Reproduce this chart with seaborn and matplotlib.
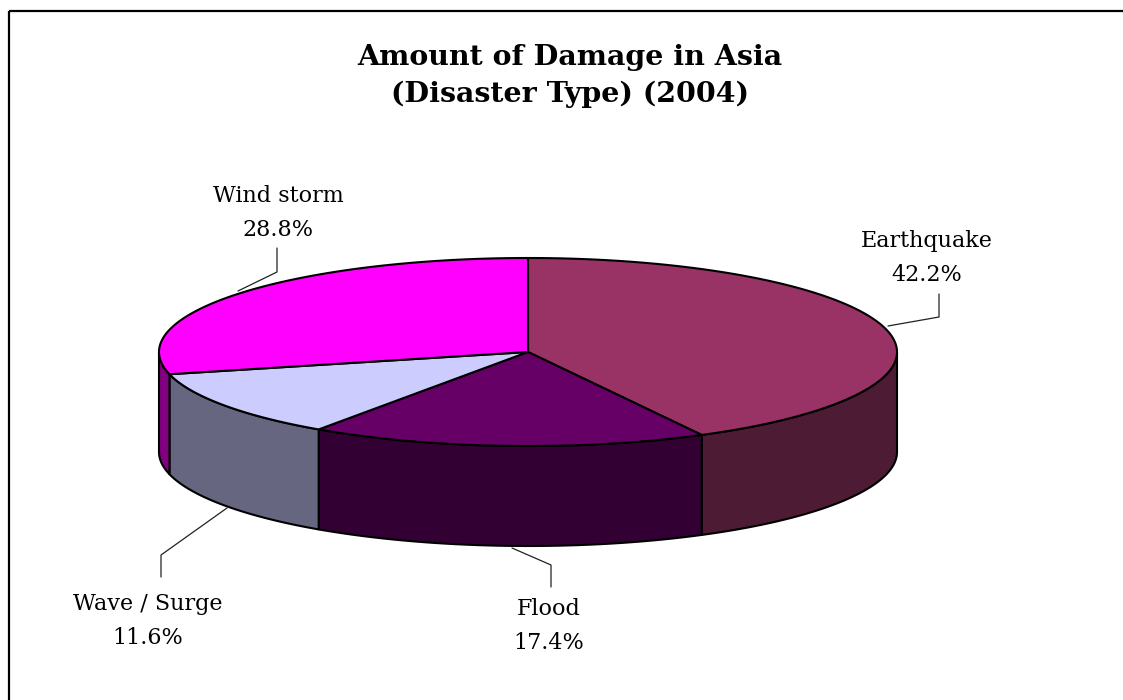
import numpy as np
import matplotlib
matplotlib.use("Agg")
import matplotlib.pyplot as plt
from matplotlib.patches import Polygon, Rectangle
import seaborn as sns

# --- data -------------------------------------------------------------
categories = ["Earthquake", "Flood", "Wave / Surge", "Wind storm"]
shares = [42.2, 17.4, 11.6, 28.8]
top_colors = ["#993366", "#660066", "#CCCCFF", "#FF00FF"]
side_colors = ["#4E1B34", "#330033", "#666680", "#800080"]

title_text = "Amount of Damage in Asia\n(Disaster Type) (2004)"

# label anchor (text centre) and leader-line path, in figure pixels
label_pos = {
    "Earthquake": (927, 258),
    "Flood": (549, 626),
    "Wave / Surge": (148, 621),
    "Wind storm": (278, 213),
}
leader_paths = {
    "Earthquake": [(939, 294), (939, 317), (888, 326)],
    "Flood": [(551, 587), (551, 565), (512, 548)],
    "Wave / Surge": [(161, 577), (161, 555), (227, 508)],
    "Wind storm": [(277, 248), (277, 272), (238, 291)],
}

# --- geometry of the tilted disc ----------------------------------------
W, H = 1123, 700
cx, cy = 528, 352      # centre of the top face
rx, ry = 369, 94       # radii of the top-face ellipse
depth = 100            # thickness of the disc


def rim(theta_deg, drop=0.0):
    t = np.radians(theta_deg)
    return cx + rx * np.cos(t), cy - ry * np.sin(t) + drop


sns.set_theme(style="white")
plt.rcParams["font.family"] = ["DejaVu Serif"]

fig = plt.figure(figsize=(W / 100, H / 100), dpi=100)
ax = fig.add_axes([0, 0, 1, 1])
ax.set_xlim(0, W)
ax.set_ylim(H, 0)
ax.axis("off")

total = sum(shares)
bounds = 90 - 360 * np.concatenate([[0], np.cumsum(shares)]) / total
edge_kw = dict(edgecolor="black", linewidth=1.5, joinstyle="round")

# side walls: only the front half of the rim (angles in [-180, 0]) is visible
for i in range(len(shares)):
    hi, lo = bounds[i], bounds[i + 1]
    for k in (-1, 0, 1):
        a, b = max(lo, -180 + 360 * k), min(hi, 360 * k)
        if b - a <= 0:
            continue
        th = np.linspace(a, b, 120)
        upper = np.array([rim(t) for t in th])
        lower = np.array([rim(t, depth) for t in th[::-1]])
        ax.add_patch(Polygon(np.vstack([upper, lower]), closed=True,
                             facecolor=side_colors[i], **edge_kw))

# top faces
for i in range(len(shares)):
    hi, lo = bounds[i], bounds[i + 1]
    th = np.linspace(hi, lo, 240)
    pts = np.vstack([[cx, cy], [rim(t) for t in th]])
    ax.add_patch(Polygon(pts, closed=True, facecolor=top_colors[i], **edge_kw))

# labels with leader lines
for name, val in zip(categories, shares):
    x, y = label_pos[name]
    ax.text(x, y, f"{name}\n{val:.1f}%", ha="center", va="center",
            fontsize=16, linespacing=1.65, color="black")
    px, py = zip(*leader_paths[name])
    ax.plot(px, py, color="#222222", linewidth=0.9)

ax.text(570, 76, title_text, ha="center", va="center", fontsize=20.5,
        fontweight="bold", linespacing=1.45, color="black")

# chart-area frame (runs off the right and bottom of the canvas)
ax.add_patch(Rectangle((8.5, 10.5), 1300, 900, fill=False,
                       edgecolor="black", linewidth=1.6))

fig.savefig("out.png", dpi=100, facecolor="white")
